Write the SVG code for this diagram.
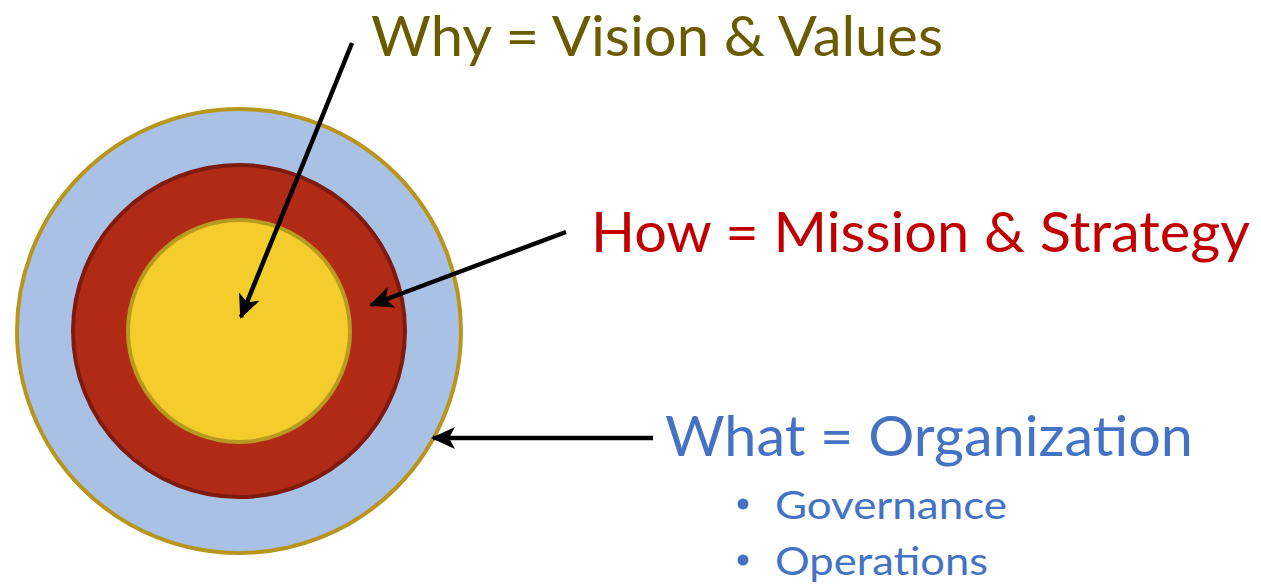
<svg xmlns="http://www.w3.org/2000/svg" width="1261" height="586" viewBox="0 0 1261 586">
<defs>
<style>
.lbl{font-family:Lato,"Open Sans","Liberation Sans",sans-serif;}
.big{font-size:56px;}
.small{font-size:38px;}
.conn{stroke:#000;stroke-width:4.5;fill:none;marker-end:url(#ah);}
</style>
<marker id="ah" markerUnits="userSpaceOnUse" markerWidth="24" markerHeight="22" refX="22" refY="11" orient="auto">
<path d="M0,0 L24,11 L0,22 L6,11 Z" fill="#000"/>
</marker>
</defs>
<rect width="1261" height="586" fill="#fff"/>
<g id="what-circle"><circle cx="239" cy="331" r="222" fill="#AAC1E6" stroke="#B8961E" stroke-width="4"/></g>
<g id="how-circle"><circle cx="239" cy="331" r="166" fill="#B02A16" stroke="#7E1A0E" stroke-width="4"/></g>
<g id="why-circle"><circle cx="239" cy="331" r="111" fill="#F4CC2C" stroke="#B89A1E" stroke-width="4"/></g>
<g id="connectors">
<line class="conn" x1="352" y1="43" x2="241" y2="317"/>
<line class="conn" x1="566" y1="232" x2="371" y2="305"/>
<line class="conn" x1="653" y1="438" x2="433" y2="438"/>
</g>
<g id="why-label"><text class="lbl big" x="371" y="56" fill="#6B5B00" textLength="572" lengthAdjust="spacingAndGlyphs">Why = Vision &amp; Values</text></g>
<g id="how-label"><text class="lbl big" x="591" y="252" fill="#C00000" textLength="659" lengthAdjust="spacingAndGlyphs">How = Mission &amp; Strategy</text></g>
<g id="what-label">
<text class="lbl big" x="665" y="456" fill="#4472C4" textLength="528" lengthAdjust="spacingAndGlyphs">What = Organization</text>
<circle cx="743" cy="504" r="5.5" fill="#4472C4"/>
<text class="lbl small" x="775" y="519" fill="#4472C4" textLength="232" lengthAdjust="spacingAndGlyphs">Governance</text>
<circle cx="743" cy="560" r="5.5" fill="#4472C4"/>
<text class="lbl small" x="775" y="575" fill="#4472C4" textLength="213" lengthAdjust="spacingAndGlyphs">Operations</text>
</g>
</svg>
